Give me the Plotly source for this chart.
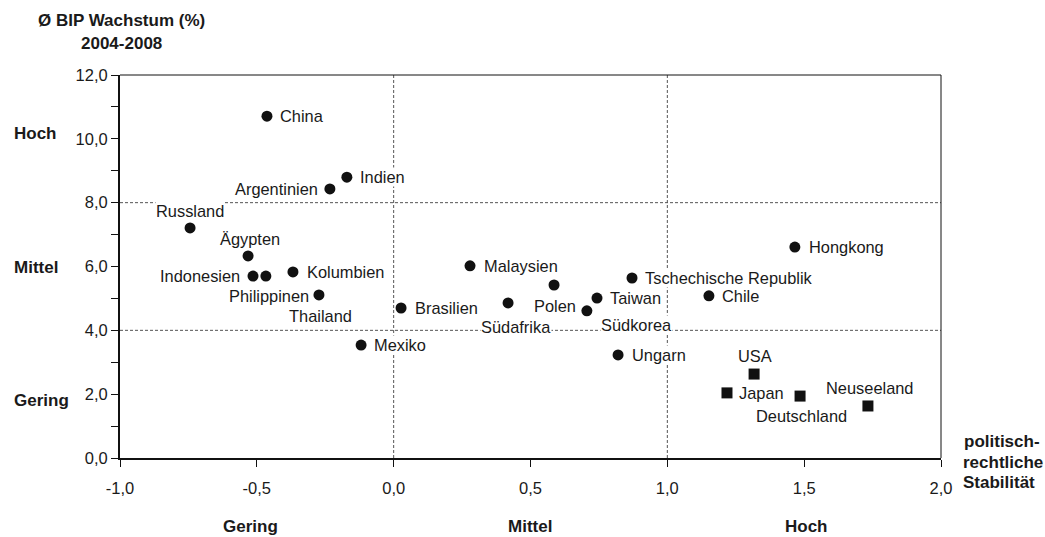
import plotly.graph_objects as go

# ---------------- data ----------------
countries_circle = ["China", "Indien", "Argentinien", "Russland", "Ägypten", "Indonesien",
                    "Philippinen", "Kolumbien", "Thailand", "Mexiko", "Brasilien", "Malaysien",
                    "Südafrika", "Polen", "Südkorea", "Taiwan", "Tschechische Republik",
                    "Ungarn", "Chile", "Hongkong"]
stability_circle = [-0.463, -0.171, -0.233, -0.744, -0.532, -0.514, -0.467, -0.368, -0.273,
                    -0.119, 0.027, 0.279, 0.418, 0.586, 0.706, 0.743, 0.871, 0.820, 1.152, 1.466]
growth_circle = [10.71, 8.80, 8.43, 7.21, 6.33, 5.70, 5.70, 5.83, 5.11, 3.54, 4.70, 6.02,
                 4.86, 5.42, 4.61, 5.01, 5.64, 3.23, 5.08, 6.61]

countries_square = ["USA", "Japan", "Deutschland", "Neuseeland"]
stability_square = [1.317, 1.218, 1.485, 1.733]
growth_square = [2.63, 2.04, 1.94, 1.63]

x_ticks = [-1.0, -0.5, 0.0, 0.5, 1.0, 1.5, 2.0]
x_ticklabels = ["-1,0", "-0,5", "0,0", "0,5", "1,0", "1,5", "2,0"]
y_ticks = [0, 2, 4, 6, 8, 10, 12]
y_ticklabels = ["0,0", "2,0", "4,0", "6,0", "8,0", "10,0", "12,0"]
y_categories = ["Hoch", "Mittel", "Gering"]
x_categories = ["Gering", "Mittel", "Hoch"]

# label placement: (anchor, dx px, dy px) ; dy positive = downward
label_place = {
    "China": ("left", 12, 0), "Indien": ("left", 12, 0), "Argentinien": ("right", -11, 0),
    "Russland": ("center", 0, -17), "Ägypten": ("center", 2, -17), "Indonesien": ("right", -12, 0),
    "Philippinen": ("center", 3, 20), "Kolumbien": ("left", 13, 0), "Thailand": ("center", 2, 21),
    "Mexiko": ("left", 12, 0), "Brasilien": ("left", 13, 0), "Malaysien": ("left", 13, 0),
    "Südafrika": ("center", 8, 24), "Polen": ("center", 1, 21), "Südkorea": ("left", 13, 14),
    "Taiwan": ("left", 12, 0), "Tschechische Republik": ("left", 12, 0), "Ungarn": ("left", 13, 0),
    "Chile": ("left", 12, 0), "Hongkong": ("left", 13, 0),
    "USA": ("center", 1, -18), "Japan": ("left", 11, 0), "Deutschland": ("center", 1, 20),
    "Neuseeland": ("center", 2, -18),
}

FONT = "Liberation Sans, Arial, sans-serif"
TXT = "#1a1a1a"
PW, PH = 821.0, 383.0   # plot area size in px

fig = go.Figure()
fig.add_trace(go.Scatter(x=stability_circle, y=growth_circle, mode="markers",
                         marker=dict(symbol="circle", size=11, color="#111"),
                         hoverinfo="text", text=countries_circle, showlegend=False))
fig.add_trace(go.Scatter(x=stability_square, y=growth_square, mode="markers",
                         marker=dict(symbol="square", size=11, color="#111"),
                         hoverinfo="text", text=countries_square, showlegend=False))

annotations = []
for names, xs, ys in [(countries_circle, stability_circle, growth_circle),
                      (countries_square, stability_square, growth_square)]:
    for n, x, y in zip(names, xs, ys):
        anc, dx, dy = label_place[n]
        annotations.append(dict(x=x, y=y, xref="x", yref="y", text=n, showarrow=False,
                                xanchor=anc, yanchor="middle", xshift=dx, yshift=-dy,
                                bgcolor="white", borderpad=0,
                                font=dict(family=FONT, size=16.4, color=TXT)))

def px_x(px):
    return (px - 120) / PW

def px_y(py):
    return (458 - py) / PH

# category labels on y side
for lab, py in zip(y_categories, [133, 267, 400]):
    annotations.append(dict(x=px_x(12), y=px_y(py), xref="paper", yref="paper",
                            text="<b>" + lab + "</b>",
                            showarrow=False, xanchor="left", yanchor="middle",
                            font=dict(family=FONT, size=17, color=TXT)))
# category labels on x side
for lab, px in zip(x_categories, [250, 530, 806]):
    annotations.append(dict(x=px_x(px), y=px_y(526), xref="paper", yref="paper",
                            text="<b>" + lab + "</b>",
                            showarrow=False, xanchor="center", yanchor="middle",
                            font=dict(family=FONT, size=17, color=TXT)))
# axis titles
annotations.append(dict(x=px_x(121), y=px_y(20), xref="paper", yref="paper",
                        text="<b>Ø BIP Wachstum (%)</b>", showarrow=False,
                        xanchor="center", yanchor="middle",
                        font=dict(family=FONT, size=17, color=TXT)))
annotations.append(dict(x=px_x(121), y=px_y(44), xref="paper", yref="paper",
                        text="<b>2004-2008</b>", showarrow=False,
                        xanchor="center", yanchor="middle",
                        font=dict(family=FONT, size=17, color=TXT)))
for t, px, py in zip(["politisch-", "rechtliche", "Stabilität"], [962, 961, 961], [441, 462, 482]):
    annotations.append(dict(x=px_x(px), y=px_y(py), xref="paper", yref="paper",
                            text="<b>" + t + "</b>", showarrow=False,
                            xanchor="left", yanchor="middle",
                            font=dict(family=FONT, size=17, color=TXT)))

shapes = []
dash_style = dict(color="#555", width=1, dash="3px,2px")
for yv in [4, 8]:
    shapes.append(dict(type="line", xref="x", yref="y", x0=-1, x1=2, y0=yv, y1=yv,
                       line=dash_style, layer="below"))
for xv in [0, 1]:
    shapes.append(dict(type="line", xref="x", yref="y", x0=xv, x1=xv, y0=0, y1=12,
                       line=dash_style, layer="below"))
# top and right frame
shapes.append(dict(type="line", xref="paper", yref="paper", x0=0, x1=1, y0=1, y1=1,
                   line=dict(color="#111", width=1)))
shapes.append(dict(type="line", xref="paper", yref="paper", x0=1, x1=1, y0=0, y1=1,
                   line=dict(color="#111", width=1)))

fig.update_layout(
    width=1045, height=537,
    margin=dict(l=120, r=104, t=75, b=79, autoexpand=False),
    paper_bgcolor="white", plot_bgcolor="white",
    font=dict(family=FONT, size=16, color=TXT),
    annotations=annotations, shapes=shapes,
    xaxis=dict(range=[-1, 2], tickvals=x_ticks, ticktext=x_ticklabels, showgrid=False,
               zeroline=False, showline=True, linecolor="#111", linewidth=2,
               ticks="outside", ticklen=7, tickcolor="#111", tickwidth=1,
               ticklabelstandoff=7,
               tickfont=dict(family=FONT, size=16.5, color=TXT)),
    yaxis=dict(range=[0, 12], tickvals=y_ticks, ticktext=y_ticklabels, showgrid=False,
               zeroline=False, showline=True, linecolor="#111", linewidth=2,
               ticks="outside", ticklen=7, tickcolor="#111", tickwidth=1,
               minor=dict(dtick=1, ticks="outside", ticklen=7, tickcolor="#111", showgrid=False),
               tickfont=dict(family=FONT, size=16.5, color=TXT)),
)

fig.write_html("out.html", config={"displayModeBar": False},
               post_script="document.body.style.margin='0';document.body.style.overflow='hidden';")
